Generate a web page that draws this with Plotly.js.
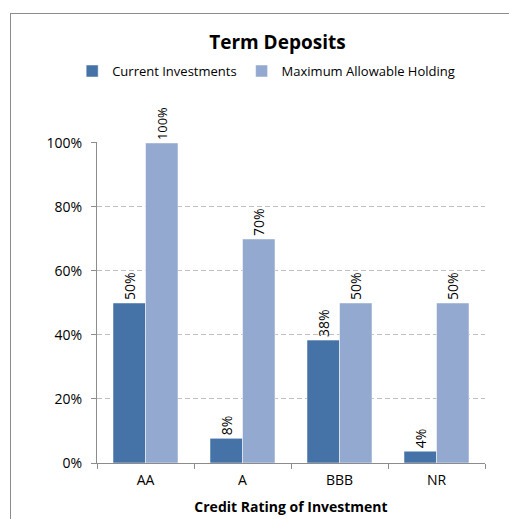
<!DOCTYPE html>
<html><head><meta charset="utf-8">
<script src="https://cdn.plot.ly/plotly-3.0.1.min.js"></script>
<style>
html,body{margin:0;padding:0;background:#fff;}
#frame{position:absolute;left:10px;top:13px;width:520px;height:520px;border-left:1px solid #8c8c8c;border-top:1px solid #8c8c8c;}
#chart{position:absolute;left:0;top:0;width:509px;height:519px;}
</style></head>
<body>
<div id="frame"></div>
<div id="chart"></div>
<script>
const categories = ["AA", "A", "BBB", "NR"];
const currentInvestments = [0.50, 0.077, 0.384, 0.037];
const maxAllowable = [1.00, 0.70, 0.50, 0.50];
const seriesNames = ["Current Investments", "Maximum Allowable Holding"];
const yTickVals = [0, 0.2, 0.4, 0.6, 0.8, 1.0];

const font = "Open Sans, DejaVu Sans, sans-serif";
const common = {
  type: "bar",
  x: categories,
  texttemplate: "%{y:.0%}",
  textposition: "outside",
  textangle: -90,
  cliponaxis: false,
  textfont: {family: font, size: 14, color: "#000"},
  hoverinfo: "skip"
};
const traces = [
  Object.assign({}, common, {name: seriesNames[0], y: currentInvestments,
    marker: {color: "#4572a7", line: {color: "#ffffff", width: 0.5}}}),
  Object.assign({}, common, {name: seriesNames[1], y: maxAllowable,
    marker: {color: "#93a9cf", line: {color: "#ffffff", width: 0.5}}})
];
const layout = {
  width: 509, height: 519,
  paper_bgcolor: "rgba(0,0,0,0)", plot_bgcolor: "rgba(0,0,0,0)",
  margin: {l: 97, r: 24, t: 142, b: 56},
  barmode: "group", bargap: 0.33, bargroupgap: 0,
  font: {family: font, size: 14, color: "#000"},
  title: {text: "<b>Term Deposits</b>", font: {family: font, size: 19, color: "#000"},
    x: 0.545, xanchor: "center", y: 0.918, yanchor: "middle"},
  showlegend: true,
  legend: {orientation: "h", x: 0.436, xanchor: "center", y: 1.221, yanchor: "middle",
    font: {family: font, size: 13}, itemwidth: 30, traceorder: "normal"},
  xaxis: {showline: true, linecolor: "#8c8c8c", ticks: "outside", tickson: "boundaries",
    ticklen: 5, tickcolor: "#8c8c8c", tickfont: {size: 14}, ticklabelstandoff: 4,
    title: {text: "<b>Credit Rating of Investment</b>", font: {size: 14}, standoff: 14}},
  yaxis: {range: [0, 1.003], tickvals: yTickVals, tickformat: ".0%", showline: true,
    linecolor: "#8c8c8c", ticks: "outside", ticklen: 5, tickcolor: "#8c8c8c",
    showgrid: true, gridcolor: "#bfbfbf", griddash: "5px,3px", gridwidth: 1,
    zeroline: false, tickfont: {size: 14}, ticklabelstandoff: 6}
};
Plotly.newPlot("chart", traces, layout, {displayModeBar: false, staticPlot: true});
</script>
</body></html>
